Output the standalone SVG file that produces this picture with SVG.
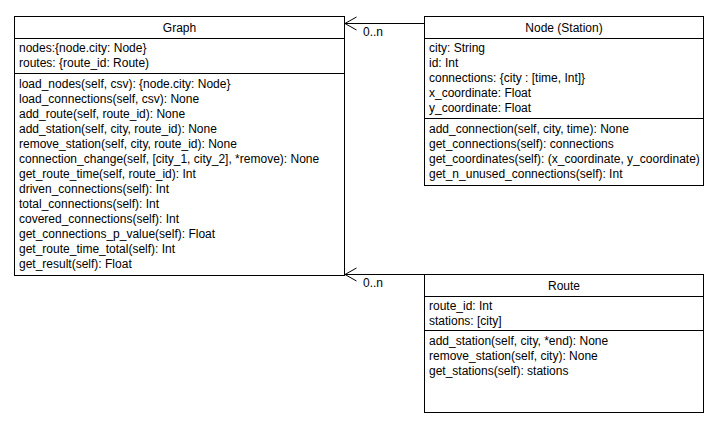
<svg xmlns="http://www.w3.org/2000/svg" width="721" height="432" viewBox="0 0 721 432">
<defs>
<style>
.box{fill:#fff;stroke:#000;stroke-width:1}
.ln{stroke:#000;stroke-width:1;fill:none}
text{font-family:"Liberation Sans",Arial,Helvetica,sans-serif;font-size:12px;fill:#000}
.t{text-anchor:middle}
</style>
<marker id="open" markerWidth="14" markerHeight="16" refX="12" refY="7" orient="auto" markerUnits="userSpaceOnUse" viewBox="0 0 14 16">
<path d="M0.5,0.5 L12,7 L0.5,13.5" fill="none" stroke="#000" stroke-width="1"/>
</marker>
</defs>
<rect width="721" height="432" fill="#fff"/>
<g id="graph">
<rect class="box" x="14.5" y="16.5" width="330" height="259"/>
<line class="ln" x1="14.5" y1="38.5" x2="344.5" y2="38.5"/>
<line class="ln" x1="14.5" y1="73.5" x2="344.5" y2="73.5"/>
<text class="t" x="179.5" y="32">Graph</text>
<text x="19" y="52">nodes:{node.city: Node}</text>
<text x="19" y="67">routes: {route_id: Route)</text>
<text x="19" y="88">load_nodes(self, csv): {node.city: Node}</text>
<text x="19" y="103">load_connections(self, csv): None</text>
<text x="19" y="118">add_route(self, route_id): None</text>
<text x="19" y="133">add_station(self, city, route_id): None</text>
<text x="19" y="148">remove_station(self, city, route_id): None</text>
<text x="19" y="163">connection_change(self, [city_1, city_2], *remove): None</text>
<text x="19" y="178">get_route_time(self, route_id): Int</text>
<text x="19" y="193">driven_connections(self): Int</text>
<text x="19" y="208">total_connections(self): Int</text>
<text x="19" y="223">covered_connections(self): Int</text>
<text x="19" y="238">get_connections_p_value(self): Float</text>
<text x="19" y="253">get_route_time_total(self): Int</text>
<text x="19" y="268">get_result(self): Float</text>
</g>
<g id="node">
<rect class="box" x="424.5" y="16.5" width="279" height="169"/>
<line class="ln" x1="424.5" y1="38.5" x2="703.5" y2="38.5"/>
<line class="ln" x1="424.5" y1="118.5" x2="703.5" y2="118.5"/>
<text class="t" x="564" y="32">Node (Station)</text>
<text x="429" y="52">city: String</text>
<text x="429" y="67">id: Int</text>
<text x="429" y="82">connections: {city : [time, Int]}</text>
<text x="429" y="97">x_coordinate: Float</text>
<text x="429" y="112">y_coordinate: Float</text>
<text x="429" y="133">add_connection(self, city, time): None</text>
<text x="429" y="148">get_connections(self): connections</text>
<text x="429" y="163">get_coordinates(self): (x_coordinate, y_coordinate)</text>
<text x="429" y="178">get_n_unused_connections(self): Int</text>
</g>
<g id="route">
<rect class="box" x="424.5" y="274.5" width="279" height="138"/>
<line class="ln" x1="424.5" y1="296.5" x2="703.5" y2="296.5"/>
<line class="ln" x1="424.5" y1="330.5" x2="703.5" y2="330.5"/>
<text class="t" x="564" y="290">Route</text>
<text x="429" y="310">route_id: Int</text>
<text x="429" y="325">stations: [city]</text>
<text x="429" y="345">add_station(self, city, *end): None</text>
<text x="429" y="360">remove_station(self, city): None</text>
<text x="429" y="375">get_stations(self): stations</text>
</g>
<g id="connectors">
<path class="ln" d="M424.5,23.5 L345,23.5" marker-end="url(#open)"/>
<text x="363" y="36">0..n</text>
<path class="ln" d="M424.5,274.5 L345,274.5" marker-end="url(#open)"/>
<text x="363" y="287">0..n</text>
</g>
</svg>
